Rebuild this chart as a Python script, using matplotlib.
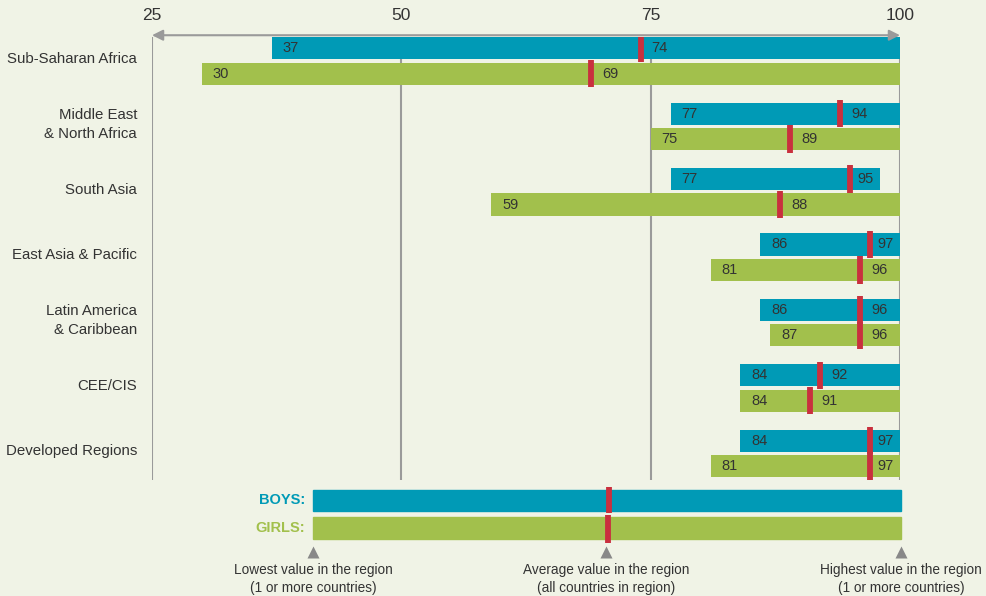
import matplotlib
matplotlib.use("Agg")
import matplotlib.pyplot as plt
from matplotlib.patches import Rectangle

plt.rcParams['font.family'] = ['Liberation Sans', 'DejaVu Sans']

regions = ["Sub-Saharan Africa", "Middle East\n& North Africa", "South Asia",
           "East Asia & Pacific", "Latin America\n& Caribbean", "CEE/CIS",
           "Developed Regions"]
boys_min = [37, 77, 77, 86, 86, 84, 84]
boys_avg = [74, 94, 95, 97, 96, 92, 97]
boys_max = [100, 100, 98, 100, 100, 100, 100]
girls_min = [30, 75, 59, 81, 87, 84, 81]
girls_avg = [69, 89, 88, 96, 96, 91, 97]
girls_max = [100, 100, 100, 100, 100, 100, 100]
xticks = [25, 50, 75, 100]

BG = '#f0f3e6'
TEAL = '#009ab6'
GREEN = '#a2c04c'
RED = '#c9303e'
GRAY = '#9a9a9a'
TXT = '#333333'

W, H = 986, 596
fig = plt.figure(figsize=(W / 100, H / 100), dpi=100, facecolor=BG)

# main axes: x 25..100 spans px 152..900, y spans px 37..480
ax = fig.add_axes([152 / W, 1 - 480 / H, (900 - 152) / W, (480 - 37) / H])
ax.set_facecolor('none')
step = 65.4
ax.set_xlim(25, 100)
ax.set_ylim((480 - 61) / step, (37 - 61) / step)
for s in ax.spines.values():
    s.set_visible(False)
ax.set_yticks([])
ax.set_xticks(xticks)
ax.xaxis.tick_top()
ax.tick_params(axis='x', length=0, pad=10, labelsize=12.5, labelcolor=TXT)

ylo, yhi = ax.get_ylim()
ax.vlines(xticks, yhi, ylo, color=GRAY, lw=1.5, zorder=0)
ax.annotate('', xy=(1, 1.004), xytext=(0, 1.004), xycoords='axes fraction',
            arrowprops=dict(arrowstyle='<|-|>', color=GRAY, lw=1.5,
                            mutation_scale=16, shrinkA=0, shrinkB=0),
            zorder=6, annotation_clip=False)

bh = 0.34
off = 0.195
for i, name in enumerate(regions):
    for sign, mn, av, mx, col in [(-1, boys_min[i], boys_avg[i], boys_max[i], TEAL),
                                  (1, girls_min[i], girls_avg[i], girls_max[i], GREEN)]:
        y = i + sign * off
        ax.barh(y, mx - mn, left=mn, height=bh, color=col, zorder=2)
        ax.vlines(av, y - 0.21, y + 0.21, color=RED, lw=4.2, zorder=4)
        ax.text(mn + 1.1, y, str(mn), ha='left', va='center', fontsize=10.5,
                color=TXT, zorder=5)
        lx = min(av + 1.1, mx - 2.3)
        ax.text(lx, y, str(av), ha='left', va='center', fontsize=10.5,
                color=TXT, zorder=5)
    ax.text(23.5, i - 0.03, name, ha='right', va='center', fontsize=10.8,
            color=TXT, linespacing=1.4, clip_on=False)

# legend key (pixel overlay)
lax = fig.add_axes([0, 0, 1, 1])
lax.set_xlim(0, W)
lax.set_ylim(H, 0)
lax.axis('off')
lax.patch.set_alpha(0)
lx0, lx1, lxa = 313, 901, 608
lax.add_patch(Rectangle((lx0, 490), lx1 - lx0, 21, color=TEAL, zorder=2))
lax.add_patch(Rectangle((lx0, 517), lx1 - lx0, 22, color=GREEN, zorder=2))
lax.vlines(lxa + 1, 487, 513, color=RED, lw=4.2, zorder=3)
lax.vlines(lxa, 515, 543, color=RED, lw=4.2, zorder=3)
lax.text(305, 500, 'BOYS:', ha='right', va='center', fontsize=10.5,
         fontweight='bold', color=TEAL)
lax.text(305, 528, 'GIRLS:', ha='right', va='center', fontsize=10.5,
         fontweight='bold', color=GREEN)
for xx, txt in [(313, 'Lowest value in the region\n(1 or more countries)'),
                (606, 'Average value in the region\n(all countries in region)'),
                (901, 'Highest value in the region\n(1 or more countries)')]:
    lax.plot(xx, 552, marker='^', color='#888888', ms=8, mec='none')
    lax.text(xx, 579, txt, ha='center', va='center', fontsize=9.8,
             color=TXT, linespacing=1.35)

fig.savefig('out.png', dpi=100, facecolor=BG)
